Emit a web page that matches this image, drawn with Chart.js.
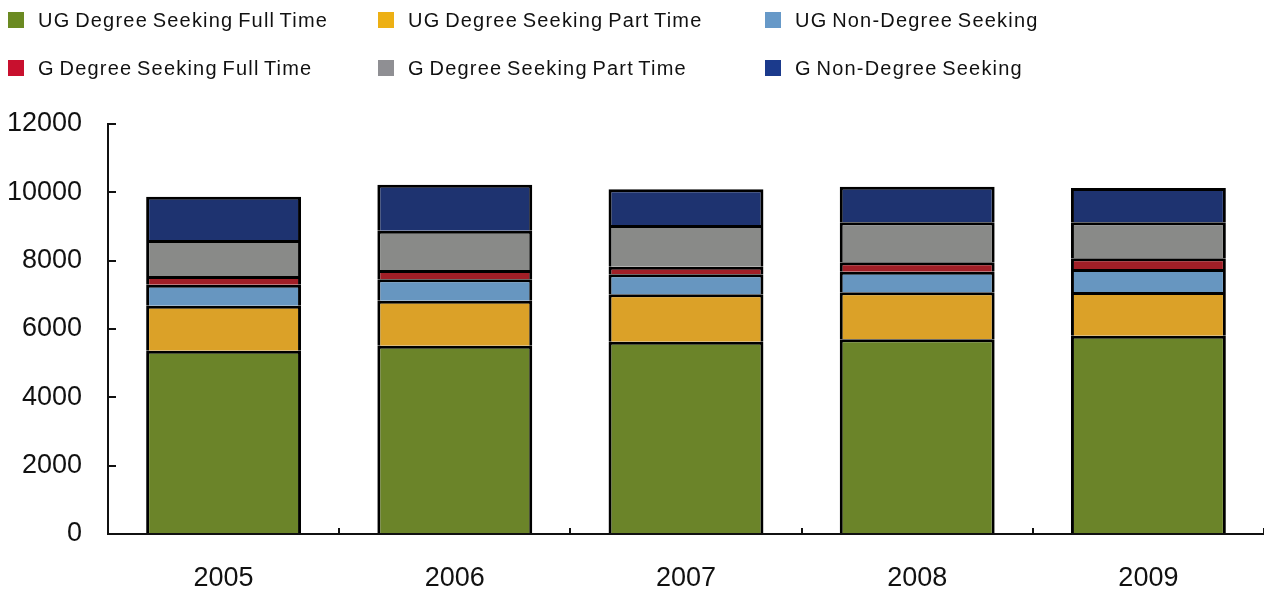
<!DOCTYPE html>
<html>
<head>
<meta charset="utf-8">
<script src="https://cdn.jsdelivr.net/npm/chart.js"></script>
<style>
  body { margin: 0; background: #fff; }
  #wrap { position: relative; width: 1264px; height: 591px; overflow: hidden; }
  #chart { position: absolute; left: 0; top: 0; }
  #legend {
    position: absolute; left: 8px; top: 12px;
    display: grid; grid-template-columns: 370px 387px auto; row-gap: 32px;
    font-family: "Liberation Sans", Arial, sans-serif; font-size: 20px;
    letter-spacing: 1.2px; word-spacing: -2px; color: #111;
  }
  .item { display: flex; align-items: center; height: 16px; white-space: nowrap; }
  .box { width: 16px; height: 16px; margin-right: 14px; flex: none; }
</style>
</head>
<body>
<div id="wrap">
  <canvas id="chart" width="1264" height="591"></canvas>
  <div id="legend"></div>
</div>
<script>
// Dados
var years = ['2005', '2006', '2007', '2008', '2009'];
var labels = [
  'UG Degree Seeking Full Time',
  'UG Degree Seeking Part Time',
  'UG Non-Degree Seeking',
  'G Degree Seeking Full Time',
  'G Degree Seeking Part Time',
  'G Non-Degree Seeking'
];
var ugFull = [5366, 5512, 5629, 5697, 5805];
var ugPart = [1317, 1317, 1386, 1376, 1278];
var ugNon = [614, 625, 586, 605, 673];
var gFull = [254, 273, 223, 273, 313];
var gPart = [1054, 1151, 1220, 1171, 1053];
var gNon = [1267, 1346, 1045, 1044, 1005];
var yTicks = [0, 2000, 4000, 6000, 8000, 10000, 12000];

// Cores
var bar_colors = ['#6B8429', '#DBA128', '#6796C0', '#A11F27', '#898A88', '#1E3370'];
var legend_colors = ['#6B8A22', '#EDB014', '#6799C8', '#C8102E', '#8F8F93', '#1B3A8C'];

var series = [ugFull, ugPart, ugNon, gFull, gPart, gNon];
var datasets = [];
for (var g = 0; g < series.length; g++) {
  datasets.push({
    label: labels[g],
    data: series[g],
    backgroundColor: bar_colors[g],
    borderColor: '#000',
    borderWidth: 3,
    borderSkipped: 'bottom',
    inflateAmount: 0,
    barPercentage: 0.67,
    categoryPercentage: 1.0
  });
}

// Legenda em HTML
var lg = '';
for (var g = 0; g < labels.length; g++) {
  lg += "<div class='item'><span class='box' style='background:" + legend_colors[g] + "'></span>" + labels[g] + "</div>";
}
document.getElementById('legend').innerHTML = lg;

var font = "'Liberation Sans', Arial, sans-serif";

new Chart(document.getElementById('chart'), {
  type: 'bar',
  data: { labels: years, datasets: datasets },
  options: {
    responsive: false,
    animation: false,
    layout: { padding: { top: 124, left: 0, right: 0, bottom: 0 } },
    plugins: { legend: { display: false }, tooltip: { enabled: false } },
    scales: {
      x: {
        stacked: true,
        grid: { drawOnChartArea: false, drawTicks: true, tickLength: -6, color: '#111', lineWidth: 2, offset: true },
        border: { display: true, color: '#111', width: 2 },
        ticks: { color: '#111', font: { family: font, size: 27 }, padding: 34 },
        afterFit: function (s) { s.height = 57; }
      },
      y: {
        stacked: true,
        min: 0,
        max: 12000,
        afterBuildTicks: function (s) { s.ticks = yTicks.map(function (v) { return { value: v }; }); },
        grid: { drawOnChartArea: false, drawTicks: true, tickLength: -8, color: '#111', lineWidth: 2 },
        border: { display: true, color: '#111', width: 2 },
        ticks: {
          color: '#111', font: { family: font, size: 27 }, padding: 34,
          callback: function (v) { return String(v); }
        },
        afterFit: function (s) { s.width = 108; }
      }
    }
  }
});
</script>
</body>
</html>
